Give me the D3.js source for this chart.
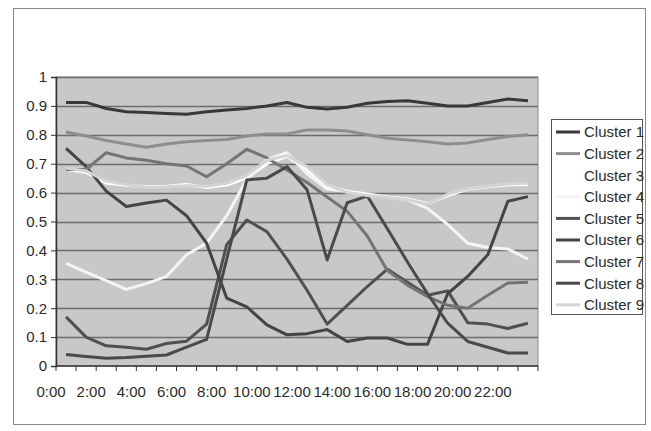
<!DOCTYPE html>
<html>
<head>
<meta charset="utf-8">
<script src="https://cdn.jsdelivr.net/npm/d3@7"></script>
<style>
  body { margin: 0; background: #fff; }
  text { font-family: "Liberation Sans", Arial, sans-serif; fill: #2b2b2b; }
</style>
</head>
<body>
<script>
// hourly categories
const hours = ["0:00", "1:00", "2:00", "3:00", "4:00", "5:00", "6:00", "7:00", "8:00", "9:00", "10:00", "11:00",
               "12:00", "13:00", "14:00", "15:00", "16:00", "17:00", "18:00", "19:00", "20:00", "21:00", "22:00", "23:00"];

const seriesNames = ["Cluster 1", "Cluster 2", "Cluster 3", "Cluster 4", "Cluster 5",
                     "Cluster 6", "Cluster 7", "Cluster 8", "Cluster 9"];

const cluster1 = [0.912, 0.912, 0.891, 0.880, 0.877, 0.874, 0.871, 0.880, 0.886, 0.891, 0.900, 0.912,
                  0.895, 0.889, 0.895, 0.909, 0.915, 0.918, 0.909, 0.900, 0.900, 0.912, 0.924, 0.918];
const cluster2 = [0.810, 0.796, 0.780, 0.768, 0.757, 0.768, 0.776, 0.780, 0.784, 0.796, 0.803, 0.803,
                  0.817, 0.817, 0.813, 0.800, 0.788, 0.782, 0.776, 0.768, 0.772, 0.784, 0.794, 0.800];
const cluster3 = [0.680, 0.670, 0.633, 0.625, 0.620, 0.622, 0.628, 0.618, 0.626, 0.650, 0.700, 0.725,
                  0.680, 0.622, 0.605, 0.595, 0.585, 0.578, 0.562, 0.590, 0.612, 0.620, 0.626, 0.628];
const cluster4 = [0.355, 0.325, 0.295, 0.265, 0.285, 0.310, 0.385, 0.425, 0.520, 0.645, 0.715, 0.738,
                  0.665, 0.612, 0.605, 0.592, 0.585, 0.575, 0.545, 0.490, 0.425, 0.410, 0.405, 0.370];
const cluster5 = [0.170, 0.100, 0.070, 0.065, 0.058, 0.078, 0.086, 0.145, 0.420, 0.505, 0.465, 0.370,
                  0.262, 0.145, 0.210, 0.275, 0.335, 0.290, 0.245, 0.260, 0.150, 0.145, 0.130, 0.148];
const cluster6 = [0.753, 0.690, 0.605, 0.552, 0.564, 0.574, 0.520, 0.425, 0.235, 0.205, 0.142, 0.108,
                  0.112, 0.126, 0.085, 0.097, 0.097, 0.075, 0.075, 0.250, 0.310, 0.385, 0.570, 0.586];
const cluster7 = [0.680, 0.680, 0.738, 0.720, 0.712, 0.700, 0.692, 0.655, 0.700, 0.750, 0.720, 0.678,
                  0.635, 0.585, 0.535, 0.450, 0.330, 0.280, 0.240, 0.210, 0.200, 0.245, 0.287, 0.290];
const cluster8 = [0.040, 0.033, 0.027, 0.029, 0.034, 0.038, 0.065, 0.092, 0.370, 0.644, 0.650, 0.690,
                  0.610, 0.367, 0.565, 0.588, 0.475, 0.360, 0.250, 0.148, 0.085, 0.065, 0.045, 0.045];
const cluster9 = [0.685, 0.675, 0.640, 0.628, 0.618, 0.620, 0.624, 0.622, 0.632, 0.660, 0.712, 0.728,
                  0.690, 0.628, 0.600, 0.590, 0.582, 0.575, 0.560, 0.595, 0.614, 0.622, 0.630, 0.632];

const yTicks = [0, 0.1, 0.2, 0.3, 0.4, 0.5, 0.6, 0.7, 0.8, 0.9, 1];
const xTickLabels = ["0:00", "2:00", "4:00", "6:00", "8:00", "10:00", "12:00", "14:00", "16:00", "18:00", "20:00", "22:00"];

const seriesValues = [cluster1, cluster2, cluster3, cluster4, cluster5, cluster6, cluster7, cluster8, cluster9];
const seriesColors = ["#383838", "#8e8e8e", "#ffffff", "#f4f4f4", "#505050", "#444444", "#747474", "#4a4a4a", "#d4d4d4"];

function createClusterChart(width, height) {
    const margin = {top: 77, right: 113, bottom: 65, left: 56};
    const chartWidth = width - margin.left - margin.right;
    const chartHeight = height - margin.top - margin.bottom;

    const x = d3.scaleBand().domain(hours).range([0, chartWidth]);
    const y = d3.scaleLinear().domain([0, 1]).range([chartHeight, 0]);

    const root = d3.select("body").append("svg")
        .attr("width", width)
        .attr("height", height);

    // outer chart frame
    root.append("rect")
        .attr("x", 13.5).attr("y", 8.5)
        .attr("width", 632).attr("height", 416)
        .attr("fill", "#fff")
        .attr("stroke", "#8a8a8a");

    const svg = root.append("g")
        .attr("transform", "translate(" + margin.left + "," + margin.top + ")");

    svg.append("rect")
        .attr("width", chartWidth)
        .attr("height", chartHeight)
        .attr("fill", "#c8c8c8")
        .attr("stroke", "#8c8c8c");

    svg.append("g")
        .selectAll("line")
        .data(yTicks.filter(d => d > 0))
        .enter().append("line")
        .attr("x1", 0)
        .attr("x2", chartWidth)
        .attr("y1", d => Math.round(y(d)) + 0.5)
        .attr("y2", d => Math.round(y(d)) + 0.5)
        .attr("stroke", "#6c6c6c")
        .attr("stroke-width", 1.3);

    const line = d3.line()
        .x((d, i) => x(hours[i]) + x.bandwidth() / 2)
        .y(d => y(d));

    svg.selectAll(".series")
        .data(seriesValues)
        .enter().append("path")
        .attr("class", "series")
        .attr("d", d => line(d))
        .attr("fill", "none")
        .attr("stroke", (d, i) => seriesColors[i])
        .attr("stroke-width", 3)
        .attr("stroke-linejoin", "round");

    // y axis
    const yAxis = svg.append("g")
        .call(d3.axisLeft(y).tickValues(yTicks).tickSize(5).tickFormat(d3.format("")));
    yAxis.select(".domain").attr("stroke", "#333").attr("stroke-width", 1.5);
    yAxis.selectAll(".tick line").attr("stroke", "#333");
    yAxis.selectAll(".tick text")
        .attr("x", -9)
        .style("font-size", "15px");

    // x axis: ticks on category boundaries, labels every second hour
    const xAxis = svg.append("g").attr("transform", "translate(0," + chartHeight + ")");
    xAxis.append("line")
        .attr("x1", 0).attr("x2", chartWidth)
        .attr("stroke", "#333").attr("stroke-width", 1.5);
    xAxis.selectAll(".xtick")
        .data(hours.concat(["end"]))
        .enter().append("line")
        .attr("class", "xtick")
        .attr("x1", d => d === "end" ? chartWidth : x(d))
        .attr("x2", d => d === "end" ? chartWidth : x(d))
        .attr("y1", 0).attr("y2", 5)
        .attr("stroke", "#333");
    xAxis.selectAll(".xlabel")
        .data(xTickLabels)
        .enter().append("text")
        .attr("class", "xlabel")
        .attr("x", d => x(d) - 5)
        .attr("y", 31)
        .attr("text-anchor", "middle")
        .style("font-size", "15px")
        .text(d => d);

    // legend
    const legend = root.append("g").attr("transform", "translate(551,119)");
    legend.append("rect")
        .attr("x", 0.5).attr("y", 0.5)
        .attr("width", 91).attr("height", 195)
        .attr("fill", "#fff")
        .attr("stroke", "#555");

    const items = legend.selectAll(".item")
        .data(seriesNames)
        .enter().append("g")
        .attr("class", "item")
        .attr("transform", (d, i) => "translate(0," + (13 + i * 21.6) + ")");
    items.append("line")
        .attr("x1", 5).attr("x2", 29)
        .attr("stroke", (d, i) => seriesColors[i])
        .attr("stroke-width", 3);
    items.append("text")
        .attr("x", 33)
        .attr("dy", "0.36em")
        .style("font-size", "15px")
        .text(d => d);
}

createClusterChart(651, 431);
</script>
</body>
</html>
